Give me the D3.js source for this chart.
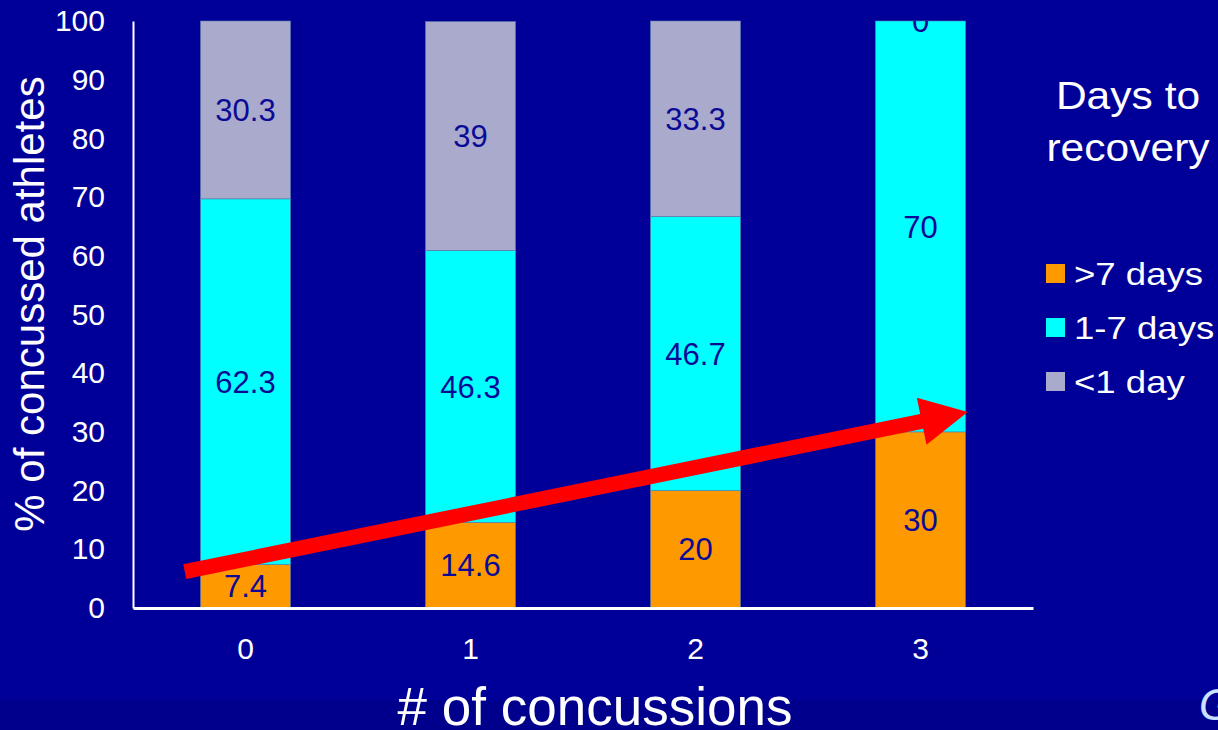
<!DOCTYPE html>
<html lang="en">
<head>
    <meta charset="utf-8">
    <title>Days to recovery</title>
    <style>
        html, body {
            margin: 0;
            padding: 0;
            background: #000099;
        }
        svg {
            display: block;
            font-family: "Liberation Sans", Arial, sans-serif;
        }
    </style>
</head>
<body>
<svg id="chart"></svg>
<script src="https://d3js.org/d3.v7.min.js"></script>
<script>
    // data
    const categories = ["0", "1", "2", "3"];
    const seriesNames = [">7 days", "1-7 days", "<1 day"];
    const over7 = [7.4, 14.6, 20, 30];
    const oneTo7 = [62.3, 46.3, 46.7, 70];
    const under1 = [30.3, 39, 33.3, 0];
    const yTicks = [0, 10, 20, 30, 40, 50, 60, 70, 80, 90, 100];
    // trend arrow: [category index, value]
    const arrowFrom = [-0.27, 6.2];
    const arrowTo = [3.21, 33.4];

    const colors = ["#ff9900", "#00ffff", "#aaaacc"];

    const W = 1218, H = 730;
    const margin = {top: 21, right: 185, bottom: 122, left: 133};
    const width = W - margin.left - margin.right;
    const height = H - margin.top - margin.bottom;

    const svg = d3.select("#chart").attr("width", W).attr("height", H);

    // background + darker strip at the bottom
    svg.append("rect").attr("width", W).attr("height", H).attr("fill", "#000099");
    svg.append("rect").attr("y", 700).attr("width", W).attr("height", H - 700).attr("fill", "#00008c");

    const g = svg.append("g").attr("transform", "translate(" + margin.left + "," + margin.top + ")");

    const x = d3.scaleBand().domain(categories).range([0, width]).paddingInner(0.6).paddingOuter(0.3);
    const y = d3.scaleLinear().domain([0, 100]).range([height, 0]);
    // continuous index scale, centre of each band
    const xi = d3.scaleLinear().domain([0, categories.length - 1])
        .range([x(categories[0]) + x.bandwidth() / 2, x(categories[categories.length - 1]) + x.bandwidth() / 2]);

    const table = categories.map(function(c, i) {
        return {cat: c, s0: over7[i], s1: oneTo7[i], s2: under1[i]};
    });
    const stacked = d3.stack().keys(["s0", "s1", "s2"])(table);

    g.append("clipPath").attr("id", "plotclip")
        .append("rect").attr("x", -10).attr("y", 0).attr("width", width + 20).attr("height", height + 40);

    const layers = g.selectAll(".layer")
        .data(stacked)
        .enter()
        .append("g")
        .attr("class", "layer")
        .attr("fill", function(d, i) { return colors[i]; });

    layers.selectAll("rect")
        .data(function(d) { return d; })
        .enter()
        .append("rect")
        .attr("x", function(d) { return x(d.data.cat); })
        .attr("y", function(d) { return y(d[1]); })
        .attr("width", x.bandwidth())
        .attr("height", function(d) { return y(d[0]) - y(d[1]); })
        .attr("stroke", "#5a7fa8")
        .attr("stroke-width", 0.6);

    // value labels
    const labels = g.append("g").attr("clip-path", "url(#plotclip)");
    stacked.forEach(function(layer) {
        labels.selectAll(null)
            .data(layer)
            .enter()
            .append("text")
            .attr("x", function(d) { return x(d.data.cat) + x.bandwidth() / 2; })
            .attr("y", function(d) { return y((d[0] + d[1]) / 2); })
            .attr("dy", "0.36em")
            .attr("text-anchor", "middle")
            .attr("font-size", 31)
            .attr("fill", "#0a0a96")
            .text(function(d) { return d3.format("~g")(d[1] - d[0] < 0.001 ? 0 : +(d[1] - d[0]).toFixed(1)); });
    });

    // axes
    const yAxis = g.append("g")
        .call(d3.axisLeft(y).tickValues(yTicks).tickSize(0).tickPadding(28));
    yAxis.select(".domain").attr("stroke", "#ffffff").attr("stroke-width", 2);
    yAxis.selectAll("text").attr("fill", "#ffffff").attr("font-size", 30).attr("font-family", "Liberation Sans, Arial, sans-serif");

    const xAxis = g.append("g")
        .attr("transform", "translate(0," + height + ")")
        .call(d3.axisBottom(x).tickSize(0).tickPadding(30));
    xAxis.select(".domain").attr("stroke", "#ffffff").attr("stroke-width", 3);
    xAxis.selectAll("text").attr("fill", "#ffffff").attr("font-size", 30).attr("font-family", "Liberation Sans, Arial, sans-serif");

    // trend arrow
    const p0 = [xi(arrowFrom[0]), y(arrowFrom[1])];
    const p1 = [xi(arrowTo[0]), y(arrowTo[1])];
    const ang = Math.atan2(p1[1] - p0[1], p1[0] - p0[0]);
    const headLen = 47, headHalf = 24, shaftHalf = 7.5;
    const ux = Math.cos(ang), uy = Math.sin(ang), nx = -uy, ny = ux;
    const b = [p1[0] - ux * headLen, p1[1] - uy * headLen];
    const pts = [
        [p0[0] + nx * shaftHalf, p0[1] + ny * shaftHalf],
        [b[0] + nx * shaftHalf, b[1] + ny * shaftHalf],
        [b[0] + nx * headHalf, b[1] + ny * headHalf],
        p1,
        [b[0] - nx * headHalf, b[1] - ny * headHalf],
        [b[0] - nx * shaftHalf, b[1] - ny * shaftHalf],
        [p0[0] - nx * shaftHalf, p0[1] - ny * shaftHalf]
    ];
    g.append("path")
        .attr("d", d3.line()(pts) + "Z")
        .attr("fill", "#ff0000");

    // axis titles
    svg.append("text")
        .attr("transform", "translate(44,304) rotate(-90)")
        .attr("text-anchor", "middle")
        .attr("font-size", 42)
        .attr("fill", "#ffffff")
        .text("% of concussed athletes");

    svg.append("text")
        .attr("x", 595)
        .attr("y", 725)
        .attr("text-anchor", "middle")
        .attr("font-size", 53)
        .attr("fill", "#ffffff")
        .text("# of concussions");

    // legend
    const legend = svg.append("g").attr("transform", "translate(1046,0)");
    legend.append("text")
        .attr("transform", "translate(82,109) scale(1.12,1)")
        .attr("text-anchor", "middle")
        .attr("font-size", 38)
        .attr("fill", "#ffffff")
        .text("Days to");
    legend.append("text")
        .attr("transform", "translate(82,161) scale(1.12,1)")
        .attr("text-anchor", "middle")
        .attr("font-size", 38)
        .attr("fill", "#ffffff")
        .text("recovery");

    const items = legend.selectAll(".item")
        .data(seriesNames)
        .enter()
        .append("g")
        .attr("class", "item")
        .attr("transform", function(d, i) { return "translate(0," + (273.5 + i * 54) + ")"; });
    items.append("rect")
        .attr("x", 0).attr("y", -9.5)
        .attr("width", 19).attr("height", 19)
        .attr("fill", function(d, i) { return colors[i]; });
    items.append("text")
        .attr("transform", "translate(28,11) scale(1.18,1)")
        .attr("font-size", 31)
        .attr("fill", "#ffffff")
        .text(function(d) { return d; });

    // source, cut at the right edge
    svg.append("text")
        .attr("x", 1199).attr("y", 720)
        .attr("font-size", 44)
        .attr("font-style", "italic")
        .attr("fill", "#cce0ff")
        .text("Guskiewicz et al.");
</script>
</body>
</html>
